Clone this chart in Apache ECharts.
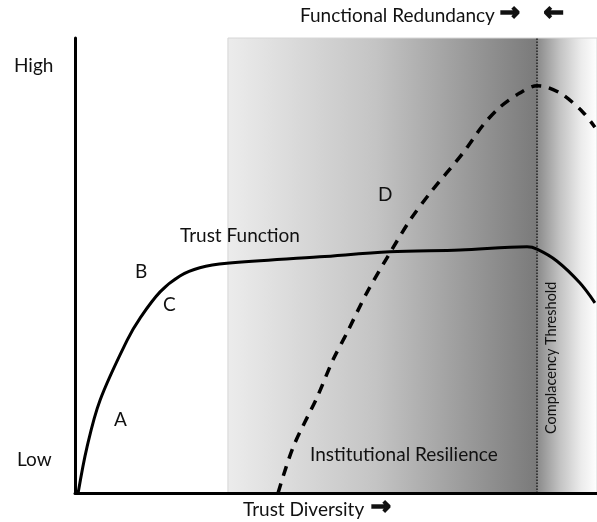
<!DOCTYPE html>
<html>
<head>
<meta charset="utf-8">
<script src="https://cdn.jsdelivr.net/npm/echarts@6/dist/echarts.min.js"></script>
<style>
  html, body { margin: 0; padding: 0; background: #fff; }
  #chart { width: 597px; height: 522px; }
</style>
</head>
<body>
<div id="chart"></div>
<script>
// trust diversity (x, 0-100) vs level (y, 0-100)
var trustX = [0.6, 2.3, 4.8, 10.0, 12.5, 16.3, 20.1, 23.9, 29.1, 46.9, 60.3, 73.8, 86.6, 88.5, 92.3, 96.7, 99.6];
var trustY = [0, 10.1, 20.4, 33.6, 38.5, 44.2, 47.7, 49.5, 50.5, 51.9, 53.0, 53.4, 54.1, 53.6, 51.0, 46.2, 41.8];

var resilX = [38.9, 41.8, 46.4, 49.4, 52.1, 55.9, 60.3, 64.2, 68.0, 74.3, 78.2, 81.4, 85.2, 88.5, 90.4, 93.5, 97.3, 99.6];
var resilY = [0, 10.1, 21.1, 29.2, 35.2, 44.0, 52.7, 60.0, 65.9, 74.7, 80.9, 84.8, 87.9, 89.5, 89.2, 87.5, 83.7, 80.4];

// shaded band (functional redundancy) and complacency threshold
var bandStart = 29.3;
var bandEnd = 100;
var threshold = 88.5;

function pairs(xs, ys) {
    var out = [];
    for (var i = 0; i < xs.length; i++) {
        out.push([xs[i], ys[i]]);
    }
    return out;
}

var chart = echarts.init(document.getElementById('chart'));
var font = 'Lato, "Open Sans", sans-serif';
var thrPos = (threshold - bandStart) / (bandEnd - bandStart);

function txt(x, y, s, size) {
    return {
        type: 'text', left: x, top: y, z: 100,
        style: { text: s, fontSize: size || 19, fontFamily: font, fill: '#111' }
    };
}
// heavy arrows: stroke the glyph to thicken it
function arrow(x, y, s) {
    return {
        type: 'text', left: x, top: y, z: 100,
        style: { text: s, fontSize: 24, fontWeight: 'bold', fontFamily: '"DejaVu Sans"',
                 fill: '#111', stroke: '#111', lineWidth: 1.6 }
    };
}

var option = {
    animation: false,
    grid: { left: 75, right: 0, top: 38, bottom: 29 },
    xAxis: {
        type: 'value', min: 0, max: 100, z: 10,
        axisLine: { show: true, onZero: false, lineStyle: { color: '#000', width: 3 } },
        axisTick: { show: false }, axisLabel: { show: false }, splitLine: { show: false }
    },
    yAxis: {
        type: 'value', min: 0, max: 100, z: 10,
        axisLine: { show: true, onZero: false, lineStyle: { color: '#000', width: 3 } },
        axisTick: { show: false }, axisLabel: { show: false }, splitLine: { show: false }
    },
    series: [
        {
            type: 'line', data: [], z: 1, silent: true,
            markArea: {
                silent: true,
                itemStyle: {
                    color: new echarts.graphic.LinearGradient(0, 0, 1, 0, [
                        { offset: 0, color: '#ececec' },
                        { offset: 0.4, color: '#c4c4c4' },
                        { offset: thrPos - 0.001, color: '#7a7a7a' },
                        { offset: thrPos + 0.002, color: '#8c8c8c' },
                        { offset: 0.9, color: '#c4c4c4' },
                        { offset: 0.955, color: '#ebebeb' },
                        { offset: 1, color: '#ffffff' }
                    ]),
                    borderColor: '#d6d6d6', borderWidth: 1
                },
                data: [[{ xAxis: bandStart, yAxis: 0 }, { xAxis: bandEnd, yAxis: 100 }]]
            },
            markLine: {
                silent: true, symbol: 'none', label: { show: false },
                lineStyle: { color: '#222', width: 1.5, type: [1.5, 1.5] },
                data: [[{ xAxis: threshold, yAxis: 0 }, { xAxis: threshold, yAxis: 100 }]]
            }
        },
        {
            name: 'Trust Function', type: 'line', z: 5,
            data: pairs(trustX, trustY),
            smooth: 0.35, showSymbol: false,
            lineStyle: { color: '#000', width: 3 }
        },
        {
            name: 'Institutional Resilience', type: 'line', z: 5,
            data: pairs(resilX, resilY),
            smooth: 0.3, showSymbol: false,
            lineStyle: { color: '#000', width: 3.5, type: [10, 8] }
        }
    ],
    graphic: [
        txt(14, 56, 'High'),
        txt(17, 450, 'Low'),
        txt(300, 6, 'Functional Redundancy'),
        arrow(499, 1, '\u2192'),
        arrow(543, 1, '\u2190'),
        txt(243, 500, 'Trust Diversity'),
        arrow(370, 495, '\u2192'),
        txt(180, 226, 'Trust Function'),
        txt(114, 410, 'A'),
        txt(135, 262, 'B'),
        txt(163, 295, 'C'),
        txt(378, 185, 'D'),
        txt(310, 445, 'Institutional Resilience'),
        {
            type: 'text', z: 100, x: 544, y: 434, rotation: Math.PI / 2,
            style: { text: 'Complacency Threshold', fontSize: 14.5, fontFamily: font, fill: '#111' }
        }
    ]
};
chart.setOption(option);
</script>
</body>
</html>
